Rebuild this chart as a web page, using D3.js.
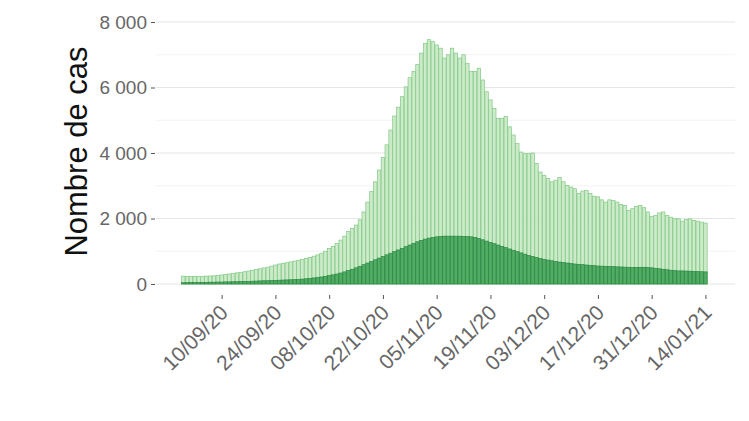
<!DOCTYPE html>
<html>
<head>
<meta charset="utf-8">
<script src="https://cdn.jsdelivr.net/npm/d3@7"></script>
<style>
  html, body { margin: 0; padding: 0; background: #fff; }
  svg { display: block; font-family: "Liberation Sans", Arial, sans-serif; }
</style>
</head>
<body>
<div id="chart"></div>
<script>
// Cas quotidiens : total (vert clair) et sous-ensemble (vert foncé), 31/08/20 -> 14/01/21
const START = "2020-08-31";

const TOTAL = [
  240, 230, 225, 225, 230, 235, 240, 245, 250, 260,
  275, 290, 305, 320, 340, 355, 375, 395, 415, 440,
  465, 490, 515, 545, 580, 610, 630, 650, 675, 700,
  725, 750, 780, 810, 850, 890, 940, 1000, 1080, 1150,
  1240, 1340, 1460, 1600, 1700, 1800, 1960, 2200, 2500, 2820,
  3120, 3480, 3860, 4250, 4700, 5130, 5400, 5720, 6020, 6300,
  6490, 6700, 7050, 7350, 7460, 7400, 7300, 7200, 6900, 7000,
  7200, 7050, 6900, 7000, 6740, 6490, 6490, 6590, 6230, 5870,
  5620, 5360, 5060, 5060, 5110, 4800, 4550, 4290, 4030, 3980,
  3980, 4000, 3680, 3420, 3320, 3220, 3120, 3170, 3250, 3120,
  3010, 2960, 2910, 2760, 2840, 2860, 2760, 2680, 2660, 2570,
  2500, 2570, 2550, 2500, 2430, 2400, 2250, 2300, 2370, 2400,
  2330, 2200, 2060, 2090, 2170, 2200, 2090, 2040, 1990, 1990,
  1920, 1970, 1990, 1940, 1920, 1890, 1860
];

const SUBSET = [
  40, 40, 45, 45, 50, 50, 50, 55, 55, 60,
  60, 65, 65, 70, 70, 75, 75, 80, 85, 90,
  95, 100, 100, 105, 110, 115, 120, 125, 130, 135,
  140, 150, 160, 170, 185, 200, 215, 235, 255, 280,
  305, 335, 370, 410, 450, 495, 540, 590, 640, 690,
  740, 790, 840, 890, 940, 990, 1040, 1090, 1140, 1190,
  1240, 1290, 1330, 1370, 1400, 1420, 1440, 1450, 1460, 1460,
  1460, 1460, 1460, 1455, 1450, 1440, 1420, 1390, 1350, 1310,
  1270, 1230, 1190, 1150, 1110, 1070, 1030, 990, 950, 910,
  870, 840, 810, 780, 750, 730, 710, 690, 670, 655,
  640, 625, 610, 600, 590, 580, 570, 560, 550, 545,
  540, 535, 530, 525, 520, 515, 510, 505, 505, 510,
  510, 505, 495, 480, 465, 450, 435, 420, 410, 400,
  400, 395, 390, 385, 380, 375, 370
];

const X_TICKS = ["2020-09-10", "2020-09-24", "2020-10-08", "2020-10-22", "2020-11-05",
                 "2020-11-19", "2020-12-03", "2020-12-17", "2020-12-31", "2021-01-14"];
const Y_TICKS = [0, 2000, 4000, 6000, 8000];
const Y_MINOR = [1000, 3000, 5000, 7000];

const parse = d3.utcParse("%Y-%m-%d");
const DAY = 864e5;
const t0 = parse(START);
const data = TOTAL.map((v, i) => ({ date: new Date(+t0 + i * DAY), total: v, sub: SUBSET[i] }));

/* ── Layout ── */
const width = 749, height = 421;
const panel = { left: 156, right: 735, top: 22, bottom: 284 };

const svg = d3.select("#chart").append("svg")
  .attr("width", width).attr("height", height);

/* ── Scales ── */
const x = d3.scaleUtc()
  .domain([new Date(+t0 - 7.1 * DAY), new Date(+t0 + 143.7 * DAY)])
  .range([panel.left, panel.right]);
const y = d3.scaleLinear().domain([0, 8000]).range([panel.bottom, panel.top]);
const dayW = x(new Date(+t0 + DAY)) - x(t0);
const barW = dayW * 0.9;

/* ── Grid ── */
svg.append("g").selectAll("line").data(Y_MINOR).join("line")
  .attr("x1", panel.left).attr("x2", panel.right)
  .attr("y1", d => y(d)).attr("y2", d => y(d))
  .attr("stroke", "#f0f0f0").attr("stroke-width", 0.8);
svg.append("g").selectAll("line").data(Y_TICKS).join("line")
  .attr("x1", panel.left).attr("x2", panel.right)
  .attr("y1", d => y(d)).attr("y2", d => y(d))
  .attr("stroke", "#e6e6e6").attr("stroke-width", 1.1);

/* ── Bars ── */
svg.append("g").selectAll("rect").data(data).join("rect")
  .attr("x", d => x(d.date) - barW / 2).attr("width", barW)
  .attr("y", d => y(d.total)).attr("height", d => y(0) - y(d.total))
  .attr("fill", "#cdebca").attr("stroke", "#80c983").attr("stroke-width", 0.7);

svg.append("g").selectAll("rect").data(data).join("rect")
  .attr("x", d => x(d.date) - barW / 2).attr("width", barW)
  .attr("y", d => y(d.sub)).attr("height", d => y(0) - y(d.sub))
  .attr("fill", "#52ad64").attr("stroke", "#2a8743").attr("stroke-width", 0.7);

/* ── Y axis ── */
const yAxis = svg.append("g").attr("transform", `translate(${panel.left - 1},0)`)
  .call(d3.axisLeft(y).tickValues(Y_TICKS).tickSize(4).tickPadding(4)
    .tickFormat(d => d3.format(",")(d).replace(",", " ")));
yAxis.select(".domain").remove();
yAxis.selectAll("line").attr("stroke", "#555");
yAxis.selectAll("text").attr("font-size", 19).attr("fill", "#666");

/* ── X axis ── */
const xAxis = svg.append("g").attr("transform", `translate(0,${panel.bottom + 11})`)
  .call(d3.axisBottom(x).tickValues(X_TICKS.map(parse)).tickSize(4)
    .tickFormat(d3.utcFormat("%d/%m/%y")));
xAxis.select(".domain").remove();
xAxis.selectAll("line").attr("stroke", "#555");
xAxis.selectAll("text")
  .attr("font-size", 21).attr("fill", "#666")
  .attr("text-anchor", "end")
  .attr("x", 0).attr("y", 0).attr("dy", 0)
  .attr("transform", "translate(7,19) rotate(-45)");

/* ── Axis title ── */
svg.append("text")
  .attr("transform", `translate(87,${(45 + 258) / 2}) rotate(-90)`)
  .attr("text-anchor", "middle")
  .attr("font-size", 31).attr("fill", "#111")
  .text("Nombre de cas");
</script>
</body>
</html>
